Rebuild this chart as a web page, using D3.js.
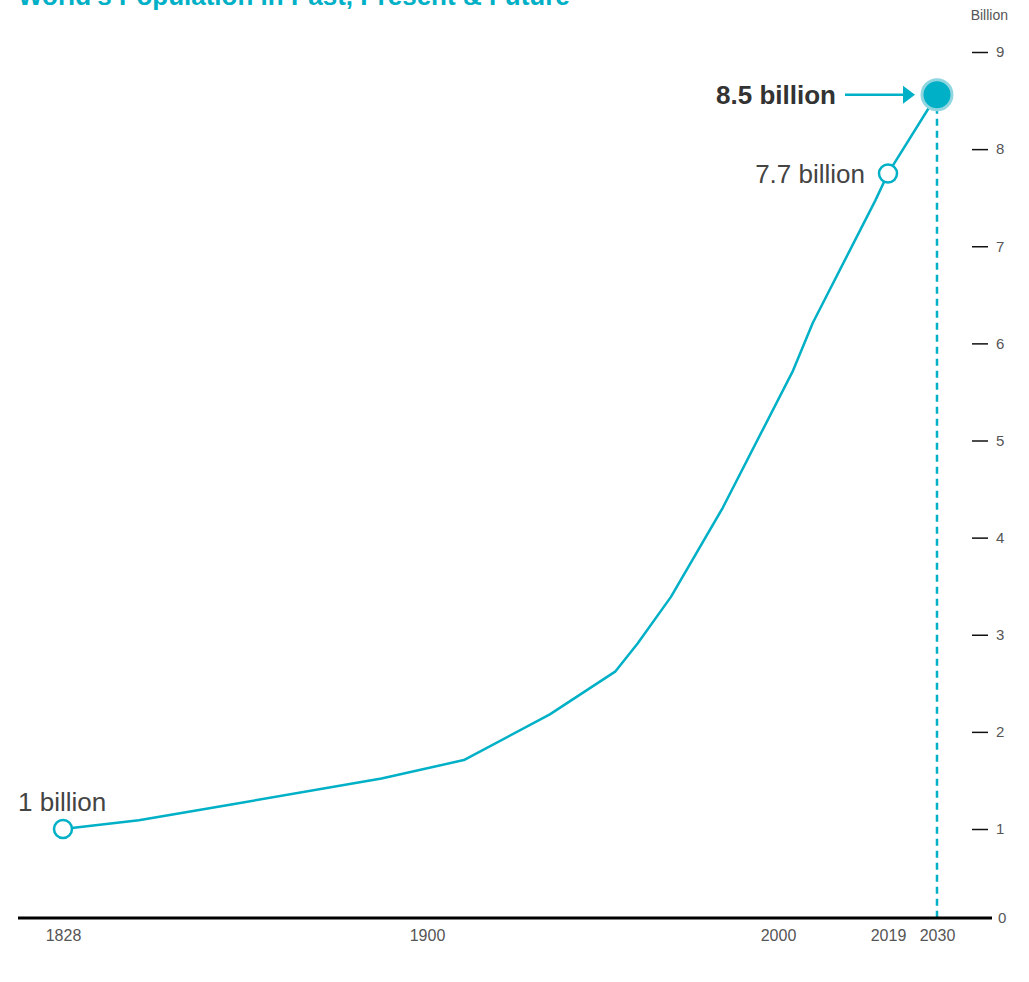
<!DOCTYPE html>
<html>
<head>
<meta charset="utf-8">
<script src="https://cdn.jsdelivr.net/npm/d3@7"></script>
<style>
  html, body { margin: 0; padding: 0; background: #fff; }
  svg { display: block; }
  text { font-family: "Liberation Sans", Arial, sans-serif; }
</style>
</head>
<body>
<svg id="chart" width="1029" height="982"></svg>
<script>
// ---- data ----
const title = "World's Population in Past, Present & Future";
const unitLabel = "Billion";
const years = [1828, 1843, 1861, 1891, 1910.5, 1935, 1953.6, 1960, 1969.5, 1984.3, 2002.6, 2006, 2016.8, 2019, 2030];
const population = [1.0, 1.09, 1.25, 1.52, 1.71, 2.18, 2.62, 2.91, 3.39, 4.31, 5.72, 6.21, 7.47, 7.75, 8.56];
const xTickYears = [1828, 1900, 2000, 2019, 2030];
const yTickValues = [0, 1, 2, 3, 4, 5, 6, 7, 8, 9];
const markerYears = [1828, 2019];
const markerLabels = ["1 billion", "7.7 billion"];
const forecastYear = 2030;
const forecastLabel = "8.5 billion";

// ---- layout ----
const teal = "#00b0c6";
const svg = d3.select("#chart");

const x = d3.scaleLinear()
  .domain(xTickYears)
  .range([63, 427, 778, 888, 937]);
const y = d3.scaleLinear()
  .domain([0, 1, 9])
  .range([918, 829, 52]);

const pts = years.map((yr, i) => ({ year: yr, value: population[i] }));
const valueAt = yr => pts.find(p => p.year === yr).value;

// title (partly above the top edge, as in the reference)
svg.append("text")
  .attr("x", 18).attr("y", 5)
  .attr("font-size", 26).attr("font-weight", "bold")
  .attr("fill", teal)
  .text(title);

// y axis (right)
const yAxis = d3.axisRight(y)
  .tickValues(yTickValues)
  .tickSize(16)
  .tickPadding(8)
  .tickFormat(d3.format("d"));
const gy = svg.append("g")
  .attr("transform", "translate(972,0)")
  .call(yAxis);
gy.select(".domain").remove();
gy.selectAll(".tick line").attr("stroke", "#111").attr("stroke-width", 1.5);
gy.selectAll(".tick text")
  .attr("font-size", 15).attr("fill", "#555")
  .attr("font-family", "Liberation Sans, Arial, sans-serif");
gy.selectAll(".tick").filter(d => d === 0).select("line").remove();
gy.selectAll(".tick").filter(d => d === 0).select("text").attr("x", 26);

svg.append("text")
  .attr("x", 1008).attr("y", 20)
  .attr("text-anchor", "end")
  .attr("font-size", 14).attr("fill", "#555")
  .text(unitLabel);

// x axis
const xAxis = d3.axisBottom(x)
  .tickValues(xTickYears)
  .tickSize(0)
  .tickPadding(12)
  .tickFormat(d3.format("d"));
const gx = svg.append("g")
  .attr("transform", `translate(0,${y(0)})`)
  .call(xAxis);
gx.select(".domain").remove();
gx.selectAll(".tick text")
  .attr("font-size", 16).attr("fill", "#555")
  .attr("font-family", "Liberation Sans, Arial, sans-serif");

// dashed forecast line
svg.append("line")
  .attr("x1", x(forecastYear)).attr("x2", x(forecastYear))
  .attr("y1", y(valueAt(forecastYear))).attr("y2", y(0))
  .attr("stroke", teal).attr("stroke-width", 2.5)
  .attr("stroke-dasharray", "7,5");

// baseline
svg.append("line")
  .attr("x1", 18).attr("x2", 992)
  .attr("y1", y(0)).attr("y2", y(0))
  .attr("stroke", "#000").attr("stroke-width", 3);

// population line
const line = d3.line().x(d => x(d.year)).y(d => y(d.value));
svg.append("path")
  .datum(pts)
  .attr("d", line)
  .attr("fill", "none")
  .attr("stroke", teal)
  .attr("stroke-width", 2.5)
  .attr("stroke-linejoin", "round");

// open markers
markerYears.forEach((yr, i) => {
  const cx = x(yr), cy = y(valueAt(yr));
  svg.append("circle")
    .attr("cx", cx).attr("cy", cy).attr("r", 9)
    .attr("fill", "#fff").attr("stroke", teal).attr("stroke-width", 2.5);
  const t = svg.append("text")
    .attr("font-size", 26).attr("fill", "#444")
    .text(markerLabels[i]);
  if (i === 0) {
    t.attr("x", 18).attr("y", cy - 18);
  } else {
    t.attr("x", cx - 23).attr("y", cy + 10).attr("text-anchor", "end");
  }
});

// forecast marker
const fx = x(forecastYear), fy = y(valueAt(forecastYear));
svg.append("circle")
  .attr("cx", fx).attr("cy", fy).attr("r", 15)
  .attr("fill", teal).attr("stroke", "#8fd6e0").attr("stroke-width", 3);

// arrow
svg.append("line")
  .attr("x1", fx - 92).attr("x2", fx - 30)
  .attr("y1", fy).attr("y2", fy)
  .attr("stroke", teal).attr("stroke-width", 2.5);
svg.append("path")
  .attr("d", `M${fx - 22},${fy} L${fx - 34},${fy - 9} L${fx - 34},${fy + 9} Z`)
  .attr("fill", teal);

svg.append("text")
  .attr("x", fx - 101).attr("y", fy + 9)
  .attr("text-anchor", "end")
  .attr("font-size", 26).attr("font-weight", "bold").attr("fill", "#333")
  .text(forecastLabel);
</script>
</body>
</html>
